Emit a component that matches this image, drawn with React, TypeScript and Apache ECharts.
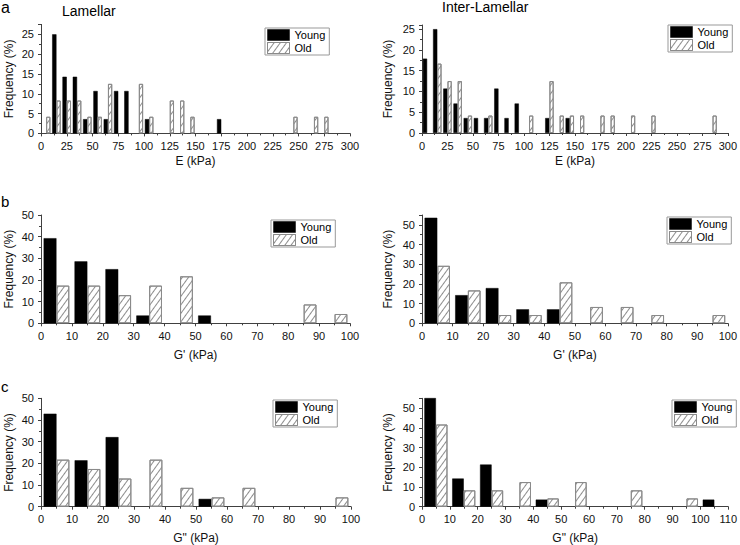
import { useEffect, useRef } from "react";
import * as echarts from "echarts";

// 10 kPa bins
const binLabels = (max: number) =>
  Array.from({ length: max / 10 }, (_, i) => `${i * 10}-${i * 10 + 10}`);

const E_BINS = binLabels(300);
const G_BINS = binLabels(100);
const G2_INTER_BINS = binLabels(110);

// Frequency (%) per bin, null = empty bin
const LAM_E_YOUNG = [null, 25, 14.3, 14.3, 3.6, 10.7, 3.6, 10.7, 10.7, null, 3.6, null, null, null, null, null, null, 3.6, null, null, null, null, null, null, null, null, null, null, null, null];
const LAM_E_OLD = [4.2, 8.3, 8.3, 8.3, 4.2, 4.2, 12.5, null, null, 12.5, 4.2, null, 8.3, 8.3, 4.2, null, null, null, null, null, null, null, null, null, 4.2, null, 4.2, 4.2, null, null];
const INT_E_YOUNG = [17.9, 25, 10.7, 7.1, 3.6, 3.6, 3.6, 10.7, 3.6, 7.1, null, null, 3.6, null, 3.6, null, null, null, null, null, null, null, null, null, null, null, null, null, null, null];
const INT_E_OLD = [null, 16.7, 12.5, 12.5, 4.2, null, 4.2, null, null, null, 4.2, null, 12.5, 4.2, 4.2, 4.2, null, 4.2, 4.2, null, 4.2, null, 4.2, null, null, null, null, null, 4.2, null];

const LAM_G1_YOUNG = [39.3, 28.6, 25, 3.6, null, 3.6, null, null, null, null];
const LAM_G1_OLD = [17.4, 17.4, 13.0, 17.4, 21.7, null, null, null, 8.7, 4.3];
const INT_G1_YOUNG = [53.6, 14.3, 17.9, 7.1, 7.1, null, null, null, null, null];
const INT_G1_OLD = [29.2, 16.7, 4.2, 4.2, 20.8, 8.3, 8.3, 4.2, null, 4.2];

const LAM_G2_YOUNG = [42.9, 21.4, 32.1, null, null, 3.6, null, null, null, null];
const LAM_G2_OLD = [21.7, 17.4, 13.0, 21.7, 8.7, 4.3, 8.7, null, null, 4.3];
const INT_G2_YOUNG = [57.1, 14.3, 21.4, null, 3.6, null, null, null, null, null, 3.6];
const INT_G2_OLD = [41.7, 8.3, 8.3, 12.5, 4.2, 12.5, null, 8.3, null, 4.2, null];

const PANELS = [
  { bins: E_BINS, young: LAM_E_YOUNG, old: LAM_E_OLD, xMax: 300, xStep: 25, yMax: 27.5, yStep: 5, xName: "E (kPa)" },
  { bins: E_BINS, young: INT_E_YOUNG, old: INT_E_OLD, xMax: 300, xStep: 25, yMax: 26, yStep: 5, xName: "E (kPa)" },
  { bins: G_BINS, young: LAM_G1_YOUNG, old: LAM_G1_OLD, xMax: 100, xStep: 10, yMax: 50, yStep: 10, xName: "G' (kPa)" },
  { bins: G_BINS, young: INT_G1_YOUNG, old: INT_G1_OLD, xMax: 100, xStep: 10, yMax: 55, yStep: 10, xName: "G' (kPa)" },
  { bins: G_BINS, young: LAM_G2_YOUNG, old: LAM_G2_OLD, xMax: 100, xStep: 10, yMax: 50, yStep: 10, xName: 'G" (kPa)' },
  { bins: G2_INTER_BINS, young: INT_G2_YOUNG, old: INT_G2_OLD, xMax: 110, xStep: 10, yMax: 55, yStep: 10, xName: 'G" (kPa)' },
];

const LAYOUT = [
  { grid: { left: 41, top: 24.4, width: 309, height: 109 }, legend: [265, 28], xGap: 22, yGap: 26 },
  { grid: { left: 422, top: 25, width: 310, height: 108 }, legend: [668, 25], xGap: 22, yGap: 28 },
  { grid: { left: 41, top: 215, width: 309, height: 108.3 }, legend: [271, 220], xGap: 26, yGap: 26 },
  { grid: { left: 422, top: 215, width: 310, height: 108.3 }, legend: [667, 217], xGap: 26, yGap: 28 },
  { grid: { left: 41, top: 398.3, width: 310, height: 108.4 }, legend: [273, 400], xGap: 25, yGap: 26 },
  { grid: { left: 422, top: 398.3, width: 310, height: 108.4 }, legend: [672, 400], xGap: 25, yGap: 28 },
];

const FONT = "'Liberation Sans', Arial, sans-serif";
const AXIS = "#404040";
const hatch = {
  symbol: "rect",
  symbolSize: 1,
  dashArrayX: [1, 0],
  dashArrayY: [1, 3.5],
  rotation: -Math.PI * 0.3,
  color: "#8c8c8c",
};
const youngStyle = { color: "#000", borderColor: "#000", borderWidth: 0.5 };
const oldStyle = { color: "#fff", borderColor: "#8a8a8a", borderWidth: 1, decal: hatch };

const App = () => {
  const chartRef = useRef<HTMLDivElement>(null);

  useEffect(() => {
    if (!chartRef.current) return;
    const chart = echarts.init(chartRef.current, null, { renderer: "svg" });

    const axisCommon = {
      axisLine: { lineStyle: { color: AXIS, width: 1 } },
      axisTick: { length: 3, lineStyle: { color: AXIS } },
      minorTick: { show: true, splitNumber: 2, length: 2, lineStyle: { color: AXIS } },
      splitLine: { show: false },
      nameTextStyle: { fontSize: 12, color: "#111", fontFamily: FONT },
    };

    chart.setOption({
      animation: false,
      backgroundColor: "#fff",
      textStyle: { fontFamily: FONT },
      title: [
        { text: "a", left: 1, top: -1, size: 16 },
        { text: "Lamellar", left: 62, top: 4, size: 14 },
        { text: "Inter-Lamellar", left: 442, top: 0, size: 14 },
        { text: "b", left: 1, top: 194, size: 15 },
        { text: "c", left: 1, top: 379, size: 15 },
      ].map((t) => ({
        text: t.text,
        left: t.left,
        top: t.top,
        padding: 0,
        textStyle: { fontSize: t.size, fontWeight: "normal", color: "#000", fontFamily: FONT },
      })),
      grid: LAYOUT.map((l) => ({ ...l.grid })),
      legend: LAYOUT.map((l) => ({
        left: l.legend[0],
        top: l.legend[1],
        orient: "vertical",
        itemWidth: 22,
        itemHeight: 11,
        itemGap: 1,
        padding: [1, 4, 1, 2],
        borderColor: "#999",
        borderWidth: 1,
        backgroundColor: "#fff",
        selectedMode: false,
        textStyle: { fontSize: 11, color: "#000", fontFamily: FONT, lineHeight: 12 },
        data: [
          { name: "Young", icon: "rect", itemStyle: youngStyle },
          { name: "Old", icon: "rect", itemStyle: oldStyle },
        ],
      })),
      xAxis: PANELS.flatMap((p, i) => [
        { type: "category", gridIndex: i, data: p.bins, show: false, position: "top" },
        {
          type: "value",
          gridIndex: i,
          position: "bottom",
          min: 0,
          max: p.xMax,
          interval: p.xStep,
          name: p.xName,
          nameLocation: "middle",
          nameGap: LAYOUT[i].xGap,
          axisLabel: { fontSize: 11, color: "#111", margin: 7 },
          ...axisCommon,
        },
      ]),
      yAxis: PANELS.map((p, i) => ({
        type: "value",
        gridIndex: i,
        min: 0,
        max: p.yMax,
        interval: p.yStep,
        name: "Frequency (%)",
        nameLocation: "middle",
        nameRotate: 90,
        nameGap: LAYOUT[i].yGap,
        axisLabel: {
          fontSize: 11,
          color: "#111",
          margin: 7,
          formatter: (v: number) => (Math.abs(v / p.yStep - Math.round(v / p.yStep)) < 1e-6 ? String(v) : ""),
        },
        ...axisCommon,
      })),
      series: PANELS.flatMap((p, i) => [
        {
          type: "bar",
          name: "Young",
          xAxisIndex: i * 2,
          yAxisIndex: i,
          data: p.young,
          barGap: "0%",
          barCategoryGap: "17%",
          itemStyle: youngStyle,
        },
        {
          type: "bar",
          name: "Old",
          xAxisIndex: i * 2,
          yAxisIndex: i,
          data: p.old,
          barGap: "0%",
          barCategoryGap: "17%",
          itemStyle: oldStyle,
        },
      ]),
    });

    return () => {
      chart.dispose();
    };
  }, []);

  return (
    <div
      ref={chartRef}
      style={{ position: "fixed", left: 0, top: 0, width: "740px", height: "545px" }}
    />
  );
};

export default App;
